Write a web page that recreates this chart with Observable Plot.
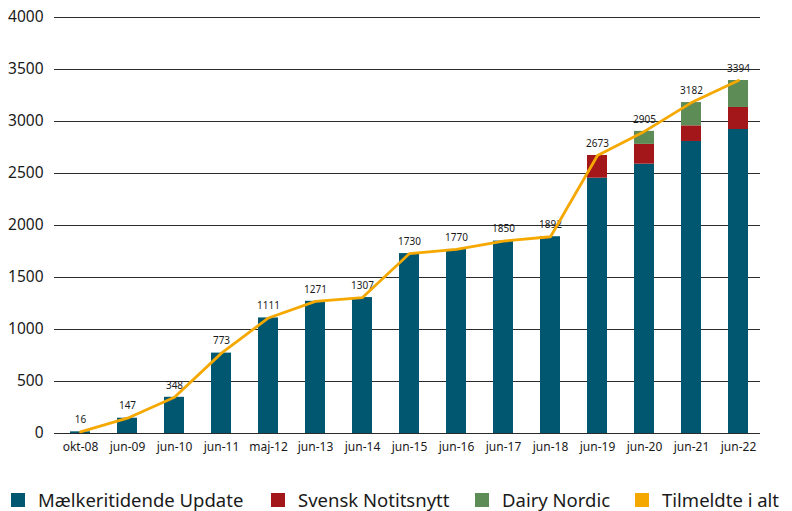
<!DOCTYPE html>
<html>
<head>
<meta charset="utf-8">
<script src="https://cdn.jsdelivr.net/npm/d3@7"></script>
<script src="https://cdn.jsdelivr.net/npm/@observablehq/plot@0.6"></script>
<style>
  html, body { margin: 0; padding: 0; background: #fff; }
  #wrap { position: relative; width: 792px; height: 511px; font-family: "Noto Sans", sans-serif; overflow: hidden; }
  .leg { position: absolute; top: 490px; height: 20px; line-height: 20px; display: flex; align-items: center; font-size: 18.5px; color: #1a1a1a; white-space: nowrap; }
  .leg span.sw { display: inline-block; width: 14px; height: 14px; margin-right: 13px; }
</style>
</head>
<body>
<div id="wrap"><div id="chart"></div></div>
<script>
const categories = ["okt-08","jun-09","jun-10","jun-11","maj-12","jun-13","jun-14","jun-15","jun-16","jun-17","jun-18","jun-19","jun-20","jun-21","jun-22"];
const maelk  = [16,147,348,773,1111,1271,1307,1730,1770,1850,1892,2455,2590,2808,2923];
const svensk = [0,0,0,0,0,0,0,0,0,0,0,218,190,150,212];
const dairy  = [0,0,0,0,0,0,0,0,0,0,0,0,125,224,259];
const totals = [16,147,348,773,1111,1271,1307,1730,1770,1850,1892,2673,2905,3182,3394];
const seriesNames = ["Mælkeritidende Update","Svensk Notitsnytt","Dairy Nordic"];
const lineName = "Tilmeldte i alt";
const colors = ["#00576f","#a3161a","#5d8c57","#f5a800"];
const yTicks = [0,500,1000,1500,2000,2500,3000,3500,4000];

const seriesValues = [maelk, svensk, dairy];
const stacked = [];
seriesNames.forEach((s, si) => {
  categories.forEach((c, i) => {
    stacked.push({cat: c, series: s, value: seriesValues[si][i]});
  });
});
const totalRows = categories.map((c, i) => ({cat: c, total: totals[i]}));

const chart = Plot.plot({
  width: 792,
  height: 470,
  marginTop: 17,
  marginBottom: 37,
  marginLeft: 54,
  marginRight: 32,
  style: {fontFamily: "Noto Sans, sans-serif", fontSize: "12px", color: "#1a1a1a", background: "transparent"},
  x: {domain: categories, range: [52.5, 765], paddingInner: 0.575, paddingOuter: 0.2875, label: null},
  y: {domain: [0, 4000], label: null},
  color: {domain: seriesNames, range: colors.slice(0, 3)},
  marks: [
    Plot.ruleY(yTicks, {stroke: "#2b2b2b", strokeWidth: 1}),
    Plot.axisY({ticks: yTicks, tickFormat: d3.format("d"), tickSize: 0, tickPadding: 11, fontSize: 15.5, label: null}),
    Plot.axisX({tickSize: 0, tickPadding: 9, fontSize: 12, label: null}),
    Plot.barY(stacked, {x: "cat", y: "value", fill: "series", order: seriesNames}),
    Plot.text(totalRows, {x: "cat", y: "total", text: d => String(d.total), dy: -12, fontSize: 10, fill: "#1a1a1a"}),
    Plot.lineY(totalRows, {x: "cat", y: "total", stroke: colors[3], strokeWidth: 2.8})
  ]
});
document.getElementById("chart").appendChild(chart);

const legendX = [11, 271, 475, 635];
const legendItems = seriesNames.concat([lineName]);
const wrap = document.getElementById("wrap");
legendItems.forEach((name, i) => {
  const d = document.createElement("div");
  d.className = "leg";
  d.style.left = legendX[i] + "px";
  const sw = document.createElement("span");
  sw.className = "sw";
  sw.style.background = colors[i];
  const t = document.createElement("span");
  t.textContent = name;
  d.appendChild(sw);
  d.appendChild(t);
  wrap.appendChild(d);
});
</script>
</body>
</html>
